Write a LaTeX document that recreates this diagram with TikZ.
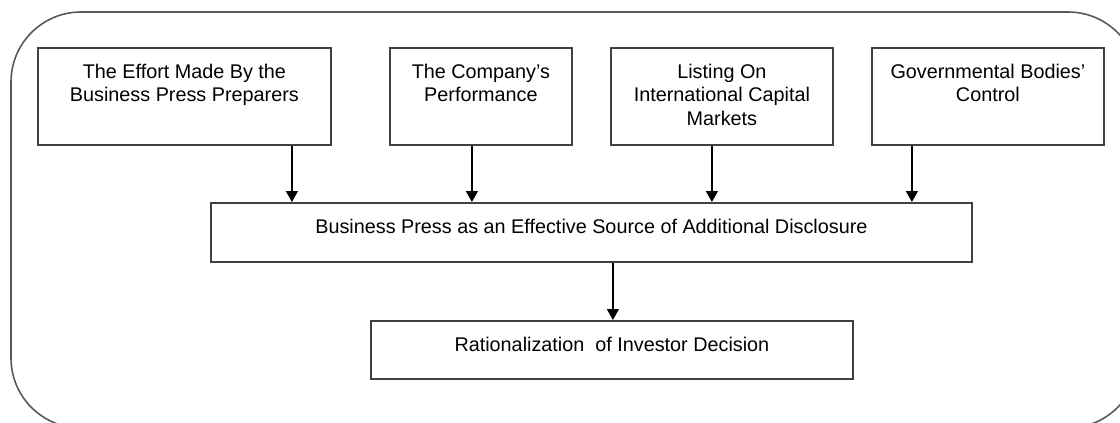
\documentclass[tikz,border=0pt]{standalone}
\usepackage{fontspec}
\setmainfont{Liberation Sans}
\usetikzlibrary{arrows.meta}
% a block of centred lines whose baseline is that of its first line
\newcommand{\toplines}[1]{\begin{tabular}[t]{@{}c@{}}#1\end{tabular}}
\begin{document}
% one unit = one pixel of a 1120 x 423 canvas (0.5pt), y grows downwards
\begin{tikzpicture}[x=0.5pt,y=-0.5pt,
  frame/.style={draw=black!65, line width=0.8pt, rounded corners=35pt},
  box/.style={draw=black!75, line width=0.9pt, rectangle, inner sep=0pt,
    anchor=north west},
  lbl/.style={anchor=base, inner sep=0pt,
    font=\fontsize{9.9}{11.7}\selectfont},
  arr/.style={-{Triangle[width=6pt,length=5.5pt]}, line width=0.7pt, black}]
\useasboundingbox (0,0) rectangle (1120,423);
\clip (0,0) rectangle (1120,423);

% surrounding frame, running past the lower and right edges
\draw[frame] (11,12) rectangle (1138,428);

% factor boxes
\node[box, minimum width=146.5pt, minimum height=48.5pt] (b1) at (37,47) {};
\node[box, minimum width=91pt,    minimum height=48.5pt] (b2) at (389,47) {};
\node[box, minimum width=111pt,   minimum height=48.5pt] (b3) at (610,47) {};
\node[box, minimum width=116pt,   minimum height=48.5pt] (b4) at (871,47) {};

\node[lbl] (t1) at ([yshift=-15.65pt]b1.north) {\toplines{The Effort Made By the\\Business Press Preparers}};
\node[lbl] (t2) at ([yshift=-15.65pt]b2.north) {\toplines{The Company’s\\Performance}};
\node[lbl] (t3) at ([yshift=-15.65pt]b3.north) {\toplines{Listing On\\International Capital\\Markets}};
\node[lbl] (t4) at ([yshift=-15.65pt]b4.north) {\toplines{Governmental Bodies’\\Control}};

% central box and outcome box
\node[box, minimum width=380.5pt, minimum height=29.5pt] (mid) at (210,202) {};
\node[lbl] (tm) at ([yshift=-15.65pt]mid.north) {Business Press as an Effective Source of Additional Disclosure};

\node[box, minimum width=241pt, minimum height=29pt] (out) at (370,320) {};
\node[lbl] (to) at ([yshift=-15.5pt]out.north) {Rationalization\ \ of Investor Decision};

% connectors
\draw[arr] ([xshift=53.75pt]b1.south) -- ([xshift=53.75pt]b1.south |- mid.north);
\draw[arr] ([xshift=-4.5pt]b2.south)  -- ([xshift=-4.5pt]b2.south |- mid.north);
\draw[arr] ([xshift=-5pt]b3.south)    -- ([xshift=-5pt]b3.south |- mid.north);
\draw[arr] ([xshift=-38pt]b4.south)   -- ([xshift=-38pt]b4.south |- mid.north);
\draw[arr] ([xshift=10.75pt]mid.south) -- ([xshift=10.75pt]mid.south |- out.north);
\end{tikzpicture}
\end{document}
